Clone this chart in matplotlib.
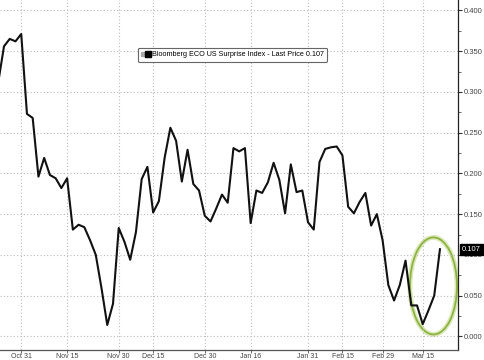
import matplotlib.pyplot as plt
from matplotlib.lines import Line2D
from matplotlib.patches import Ellipse
from matplotlib.legend_handler import HandlerTuple

plt.rcParams['font.family'] = ['Liberation Sans', 'DejaVu Sans']

# Bloomberg ECO US Surprise Index, one value per observation
values = [0.312, 0.356, 0.365, 0.362, 0.371, 0.273, 0.268, 0.196, 0.219, 0.198,
          0.194, 0.182, 0.194, 0.131, 0.137, 0.134, 0.118, 0.100, 0.059, 0.014,
          0.040, 0.133, 0.116, 0.094, 0.128, 0.193, 0.208, 0.152, 0.166, 0.219,
          0.256, 0.240, 0.190, 0.229, 0.187, 0.179, 0.148, 0.141, 0.157, 0.174,
          0.164, 0.231, 0.227, 0.231, 0.139, 0.179, 0.176, 0.189, 0.213, 0.192,
          0.151, 0.211, 0.177, 0.179, 0.140, 0.131, 0.214, 0.230, 0.232, 0.233,
          0.222, 0.159, 0.151, 0.165, 0.176, 0.136, 0.150, 0.118, 0.063, 0.044,
          0.063, 0.093, 0.038, 0.038, 0.015, 0.032, 0.050, 0.107]
x = list(range(len(values)))

tick_pos = [4, 12, 21, 27, 36, 44, 54, 60, 67, 74]
tick_labels = ['Oct 31', 'Nov 15', 'Nov 30', 'Dec 15', 'Dec 30',
               'Jan 16', 'Jan 31', 'Feb 15', 'Feb 29', 'Mar 15']
y_ticks = [0.0, 0.05, 0.10, 0.15, 0.20, 0.25, 0.30, 0.35, 0.40]
last = values[-1]

fig = plt.figure(figsize=(4.85, 3.6), dpi=100)
ax = fig.add_axes([0, 10 / 360, 458 / 485, 360 / 360])

ax.plot(x, values, color='#111111', lw=1.5)

step = 5.736
ax.set_xlim(0.3, 0.3 + 458 / step)
ax.set_ylim(-0.0167, 0.412)

ax.yaxis.tick_right()
ax.set_yticks(y_ticks)
ax.set_yticklabels(['%.3f' % v for v in y_ticks])
ax.set_yticks([v + 0.025 for v in y_ticks], minor=True)
ax.set_xticks(tick_pos)
ax.set_xticklabels(tick_labels)

ax.tick_params(axis='y', which='major', direction='out', length=3, width=0.8,
               labelsize=5.5, labelcolor='#444444', pad=1, color='#333333')
ax.tick_params(axis='y', which='minor', direction='out', length=2, width=0.6, color='#555555')
ax.tick_params(axis='x', which='major', direction='out', length=2, width=0.6,
               labelsize=5, labelcolor='#444444', pad=0.3, color='#555555')

for s in ['left', 'top']:
    ax.spines[s].set_visible(False)
ax.spines['right'].set_color('#222222')
ax.spines['right'].set_linewidth(0.9)
ax.spines['bottom'].set_color('#555555')
ax.spines['bottom'].set_linewidth(0.9)

ax.grid(True, which='major', color='#bbbbbb', lw=0.8, ls=(0, (1, 2)))

# highlight round the last few points
cx, cy = 75.87, 0.0619
ax.add_patch(Ellipse((cx, cy), 8.2, 0.119, fill=False, ec='#dbe8b8', lw=3.5))
ax.add_patch(Ellipse((cx, cy), 8.2, 0.119, fill=False, ec='#8db443', lw=1.3))

# last price tag
ax.annotate('%.3f' % last, xy=(1.0, last), xycoords=('axes fraction', 'data'),
            xytext=(3, 0), textcoords='offset points', va='center', ha='left',
            fontsize=5.5, color='white',
            bbox=dict(boxstyle='square,pad=0.25', fc='black', ec='black'),
            annotation_clip=False)

gray_sq = Line2D([], [], ls='none', marker='s', ms=3, color='#aaaaaa')
black_sq = Line2D([], [], ls='none', marker='s', ms=5, color='black')
leg = ax.legend([(gray_sq, black_sq)],
                ['Bloomberg ECO US Surprise Index - Last Price %.3f' % last],
                handler_map={tuple: HandlerTuple(ndivide=None, pad=0.1)},
                loc='upper left', bbox_to_anchor=(0.301, 0.84), borderaxespad=0,
                fontsize=5.2, handlelength=1.2, handletextpad=0.2, borderpad=0.5,
                frameon=True, fancybox=True, framealpha=1)
leg.get_frame().set_edgecolor('#666666')
leg.get_frame().set_linewidth(0.8)

fig.savefig('out.png', dpi=100)
